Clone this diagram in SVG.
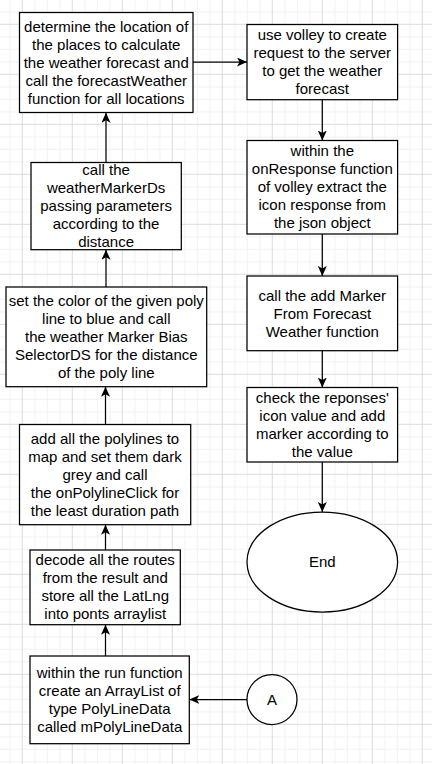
<svg xmlns="http://www.w3.org/2000/svg" width="432" height="764" viewBox="0 0 432 764">
<style>
.box{fill:#fff;stroke:#000;stroke-width:1.25}
.t{font-family:"Liberation Sans",Arial,Helvetica,sans-serif;font-size:15px;fill:#000;text-anchor:middle}
.edge{fill:none;stroke:#000;stroke-width:1.25;marker-end:url(#arr)}
</style>
<defs>
<pattern id="grid" patternUnits="userSpaceOnUse" x="21.8" y="23.8" width="50" height="50">
<rect x="0" y="0" width="50" height="50" fill="#fff"/>
<rect x="12.5" y="0" width="1" height="50" fill="#f2f2f2"/>
<rect x="25" y="0" width="1" height="50" fill="#f2f2f2"/>
<rect x="37.5" y="0" width="1" height="50" fill="#f2f2f2"/>
<rect x="0" y="12.5" width="50" height="1" fill="#f2f2f2"/>
<rect x="0" y="25" width="50" height="1" fill="#f2f2f2"/>
<rect x="0" y="37.5" width="50" height="1" fill="#f2f2f2"/>
<rect x="0" y="0" width="1" height="50" fill="#dcdcdc"/>
<rect x="0" y="0" width="50" height="1" fill="#dcdcdc"/>
</pattern>
<marker id="arr" markerUnits="userSpaceOnUse" viewBox="0 0 10 9" refX="10" refY="4.5" markerWidth="10" markerHeight="9" orient="auto">
<path d="M0,0 L10,4.5 L0,9 L2.5,4.5 Z" fill="#000"/>
</marker>
</defs>
<rect width="432" height="764" fill="url(#grid)"/>

<g id="connectors">
<path class="edge" d="M106,162.5 L106,112.7"/>
<path class="edge" d="M106,287 L106,249.7"/>
<path class="edge" d="M105.5,424.5 L105.5,386.7"/>
<path class="edge" d="M105.5,550 L105.5,524.7"/>
<path class="edge" d="M105.5,656 L105.5,624.7"/>
<path class="edge" d="M247,699.5 L189.3,699.5"/>
<path class="edge" d="M193,62 L247,62"/>
<path class="edge" d="M322.3,99.7 L322.3,140.5"/>
<path class="edge" d="M322.3,234 L322.3,276"/>
<path class="edge" d="M322.3,350.7 L322.3,387.5"/>
<path class="edge" d="M322.3,462 L322.3,512"/>
</g>

<g id="determine">
<rect class="box" x="19.5" y="12.5" width="173.5" height="100"/>
<text class="t" x="106.25"><tspan x="106.25" y="31.5">determine the location of</tspan><tspan x="106.25" y="49.5">the places to calculate</tspan><tspan x="106.25" y="67.5">the weather forecast and</tspan><tspan x="106.25" y="85.5">call the forecastWeather</tspan><tspan x="106.25" y="103.5">function for all locations</tspan></text>
</g>

<g id="volley">
<rect class="box" x="247" y="24.5" width="150.6" height="75.2"/>
<text class="t"><tspan x="322.3" y="40">use volley to create</tspan><tspan x="322.3" y="58">request to the server</tspan><tspan x="322.3" y="76">to get the weather</tspan><tspan x="322.3" y="94">forecast</tspan></text>
</g>

<g id="weatherMarker">
<rect class="box" x="31" y="162.5" width="150.3" height="87.2"/>
<text class="t"><tspan x="106.1" y="175">call the</tspan><tspan x="106.1" y="193">weatherMarkerDs</tspan><tspan x="106.1" y="211">passing parameters</tspan><tspan x="106.1" y="229">according to the</tspan><tspan x="106.1" y="247">distance</tspan></text>
</g>

<g id="onResponse">
<rect class="box" x="247" y="140.5" width="150.6" height="93.5"/>
<text class="t"><tspan x="322.3" y="156.3">within the</tspan><tspan x="322.3" y="174.3">onResponse function</tspan><tspan x="322.3" y="192.3">of volley extract the</tspan><tspan x="322.3" y="210.3">icon response from</tspan><tspan x="322.3" y="228.3">the json object</tspan></text>
</g>

<g id="setColor">
<rect class="box" x="6" y="287" width="200.7" height="99.7"/>
<text class="t"><tspan x="106.3" y="305.8">set the color of the given poly</tspan><tspan x="106.3" y="323.8">line to blue and call</tspan><tspan x="106.3" y="341.8">the weather Marker Bias</tspan><tspan x="106.3" y="359.8">SelectorDS for the distance</tspan><tspan x="106.3" y="377.8">of the poly line</tspan></text>
</g>

<g id="addMarker">
<rect class="box" x="247" y="276" width="150.6" height="74.7"/>
<text class="t"><tspan x="322.3" y="300.5">call the add Marker</tspan><tspan x="322.3" y="318.5">From Forecast</tspan><tspan x="322.3" y="336.5">Weather function</tspan></text>
</g>

<g id="check">
<rect class="box" x="247" y="387.5" width="150.6" height="74.5"/>
<text class="t"><tspan x="322.3" y="402.7">check the reponses'</tspan><tspan x="322.3" y="420.7">icon value and add</tspan><tspan x="322.3" y="438.7">marker according to</tspan><tspan x="322.3" y="456.7">the value</tspan></text>
</g>

<g id="addPolylines">
<rect class="box" x="19.5" y="424.5" width="171.2" height="100.2"/>
<text class="t"><tspan x="105" y="443.5">add all the polylines to</tspan><tspan x="105" y="461.5">map and set them dark</tspan><tspan x="105" y="479.5">grey and call</tspan><tspan x="105" y="497.5">the onPolylineClick for</tspan><tspan x="105" y="515.5">the least duration path</tspan></text>
</g>

<g id="end">
<ellipse cx="322.3" cy="562" rx="75.3" ry="50" fill="#fff" stroke="#000" stroke-width="1.25"/>
<text class="t" x="322.3" y="567.3">End</text>
</g>

<g id="decode">
<rect class="box" x="30" y="550" width="150.3" height="74.7"/>
<text class="t"><tspan x="105.2" y="565.3">decode all the routes</tspan><tspan x="105.2" y="583.3">from the result and</tspan><tspan x="105.2" y="601.3">store all the LatLng</tspan><tspan x="105.2" y="619.3">into ponts arraylist</tspan></text>
</g>

<g id="runFunction">
<rect class="box" x="30" y="656" width="159.3" height="87.7"/>
<text class="t"><tspan x="109.7" y="677.8">within the run function</tspan><tspan x="109.7" y="695.8">create an ArrayList of</tspan><tspan x="109.7" y="713.8">type PolyLineData</tspan><tspan x="109.7" y="731.8">called mPolyLineData</tspan></text>
</g>

<g id="connectorA">
<circle cx="272" cy="699.5" r="25" fill="#fff" stroke="#000" stroke-width="1.25"/>
<text class="t" x="272" y="704.8">A</text>
</g>
</svg>
